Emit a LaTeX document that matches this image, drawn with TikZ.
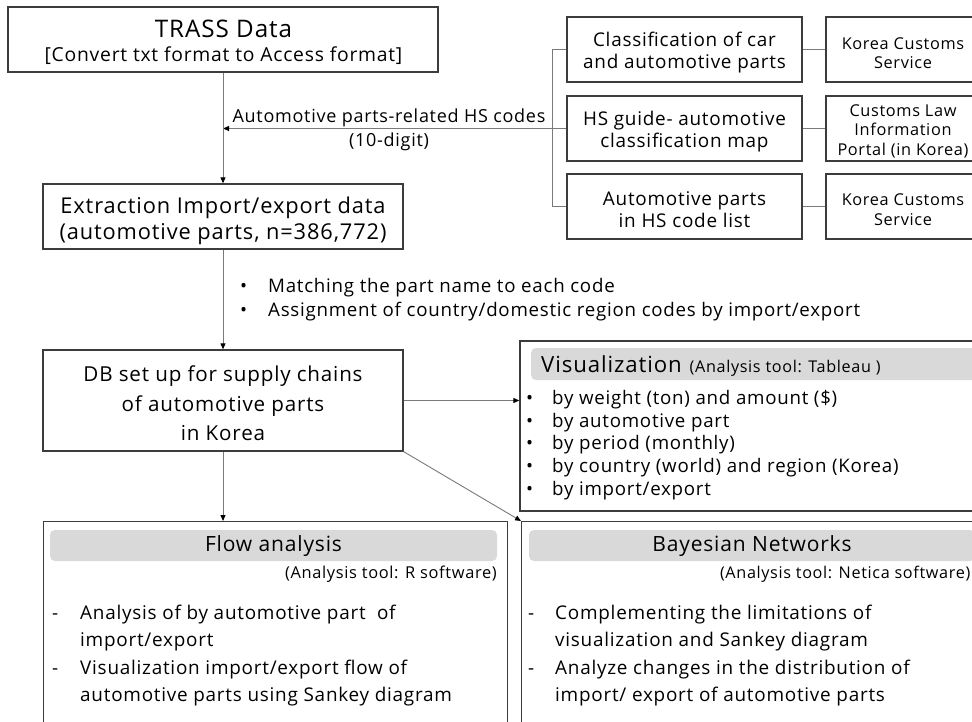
\documentclass[tikz,border=0pt]{standalone}
\usepackage{fontspec}
\setmainfont{Open Sans}[LetterSpace=4]
\usetikzlibrary{arrows.meta}
\definecolor{boxc}{HTML}{3C3C3C}
\definecolor{lnc}{HTML}{7A7A7A}
\definecolor{hdr}{HTML}{D9D9D9}
\newcommand{\fsz}[2]{\fontsize{#1}{#2}\selectfont}
\begin{document}
\begin{tikzpicture}[x=1pt,y=-1pt,
  box/.style={draw=boxc, line width=1.3pt, rectangle, inner sep=0pt},
  txt/.style={inner sep=0pt, align=center, text=black},
  conn/.style={draw=lnc, line width=0.9pt},
  arr/.style={conn, -{Triangle[length=6pt,width=5pt,color=black]}},
  lbl/.style={inner sep=0pt, text=black},
]
\useasboundingbox (0,0) rectangle (972,722);
\fill[white] (0,0) rectangle (972,722);
\clip (0,0) rectangle (972,722);

% left column boxes
\node[box, minimum width=430pt, minimum height=65pt] (trass) at (223,39.5) {};
\node[lbl, font=\fsz{24.2}{28}] (trassA) at (223.5,29) {TRASS Data};
\node[lbl, font=\fsz{19.3}{24}] (trassB) at (223.5,56) {[Convert txt format to Access format]};

\node[box, minimum width=360pt, minimum height=65pt] (extr) at (223,216.5) {};
\node[txt, font=\fsz{21.8}{26}] (extrT) at (223,221)
  {Extraction Import/export data\\(automotive parts, n=386,772)};

\node[box, minimum width=360pt, minimum height=101pt] (db) at (223,400.5) {};
\node[txt, font=\fsz{20.6}{29.5}] (dbT) at (223,403.5)
  {DB set up for supply chains\\of automotive parts\\in Korea};

% source boxes
\foreach \n/\y/\t in {c1/49.5/{Classification of car\\and automotive parts},
                      c2/128.5/{HS guide- automotive\\classification map},
                      c3/206.5/{Automotive parts\\in HS code list}}{
  \node[box, minimum width=235pt, minimum height=65pt] (\n) at (684.5,\y) {};
  \node[txt, font=\fsz{18.9}{22.5}] (\n T) at (684.5,\y+3) {\t};
}
\foreach \n/\y in {k1/49.5, k2/128.5, k3/206.5}{
  \node[box, minimum width=154pt, minimum height=65pt] (\n) at (903,\y) {};
}
\node[txt, font=\fsz{16.3}{19.5}] (k1T) at (903,53) {Korea Customs\\Service};
\node[txt, font=\fsz{16.3}{19.5}] (k2T) at (903,131) {Customs Law\\Information\\Portal (in Korea)};
\node[txt, font=\fsz{16.3}{19.5}] (k3T) at (903,209.5) {Korea Customs\\Service};
\foreach \a/\b in {c1/k1,c2/k2,c3/k3}{ \draw[conn] (\a.east) -- (\b.west); }

% bracket
\draw[conn] (c1.west) -- ++(-14,0) |- (c3.west);
\draw[arr] (c2.west) -- (trass.south |- c2.west);
\node[lbl, font=\fsz{18}{20}] (hslbl) at (389,118) {Automotive parts-related HS codes};
\node[lbl, font=\fsz{18}{20}] (digit) at (389,142) {(10-digit)};

\draw[arr] (trass.south) -- (extr.north);
\draw[arr] (extr.south) -- (db.north);

% matching bullets
\node[lbl, anchor=west, font=\fsz{18.7}{20}] (b1) at (240,287.5) {\makebox[28pt][l]{•}Matching the part name to each code};
\node[lbl, anchor=west, font=\fsz{18.7}{20}] (b2) at (240,311.5) {\makebox[28pt][l]{•}Assignment of country/domestic region codes by import/export};

% visualization
\node[box, minimum width=465pt, minimum height=170pt] (viz) at (752.5,426) {};
\fill[hdr, rounded corners=5pt] (531,348) rectangle (995,380);
\node[lbl, anchor=base west] (vt) at (541,372) {\fsz{22.2}{24}Visualization\hspace{8pt}\fsz{16.2}{18}(Analysis tool: Tableau )};
\foreach \t [count=\i] in {by weight (ton) and amount (\$), by automotive part, by period (monthly), by country (world) and region (Korea), by import/export}{
  \pgfmathsetmacro\yy{399.5+(\i-1)*22.75}
  \node[lbl, anchor=west, font=\fsz{18.7}{20}] (v\i) at (526,\yy) {\makebox[26pt][l]{•}\t};
}
\draw[arr] (db.east) -- (db.east -| viz.west);

% flow analysis
\node[box, minimum width=464pt, minimum height=240pt, anchor=north west] (flow) at (43,521) {};
\fill[hdr, rounded corners=5pt] (50,530) rectangle (497,561);
\node[lbl, font=\fsz{21}{22}] (ft) at (273.5,546) {Flow analysis};
\node[lbl, anchor=east, font=\fsz{16.4}{18}] (ftool) at (497,574) {(Analysis tool: R software)};
\node[lbl, anchor=west, font=\fsz{18.9}{20}] (f1) at (52,615) {\makebox[28pt][l]{-}Analysis of by automotive part\ \ of};
\node[lbl, anchor=west, font=\fsz{18.9}{20}] (f2) at (80,642) {import/export};
\node[lbl, anchor=west, font=\fsz{18.9}{20}] (f3) at (52,670) {\makebox[28pt][l]{-}Visualization import/export flow of};
\node[lbl, anchor=west, font=\fsz{18.9}{20}] (f4) at (80,697) {automotive parts using Sankey diagram};

% bayesian
\node[box, minimum width=464pt, minimum height=240pt, anchor=north west] (bayes) at (521,521) {};
\fill[hdr, rounded corners=5pt] (529,530) rectangle (975,561);
\node[lbl, font=\fsz{21}{22}] (bt) at (752,546) {Bayesian Networks};
\node[lbl, anchor=east, font=\fsz{16.2}{18}] (btool) at (970.5,574) {(Analysis tool: Netica software)};
\node[lbl, anchor=west, font=\fsz{18.9}{20}] (g1) at (528,615) {\makebox[27pt][l]{-}Complementing the limitations of};
\node[lbl, anchor=west, font=\fsz{18.9}{20}] (g2) at (555,642) {visualization and Sankey diagram};
\node[lbl, anchor=west, font=\fsz{18.9}{20}] (g3) at (528,670) {\makebox[27pt][l]{-}Analyze changes in the distribution of};
\node[lbl, anchor=west, font=\fsz{18.9}{20}] (g4) at (555,697) {import/ export of automotive parts};

\draw[arr] (db.south) -- (flow.north -| db.south);
\draw[arr] (db.south east) -- (bayes.north west);
\end{tikzpicture}
\end{document}
